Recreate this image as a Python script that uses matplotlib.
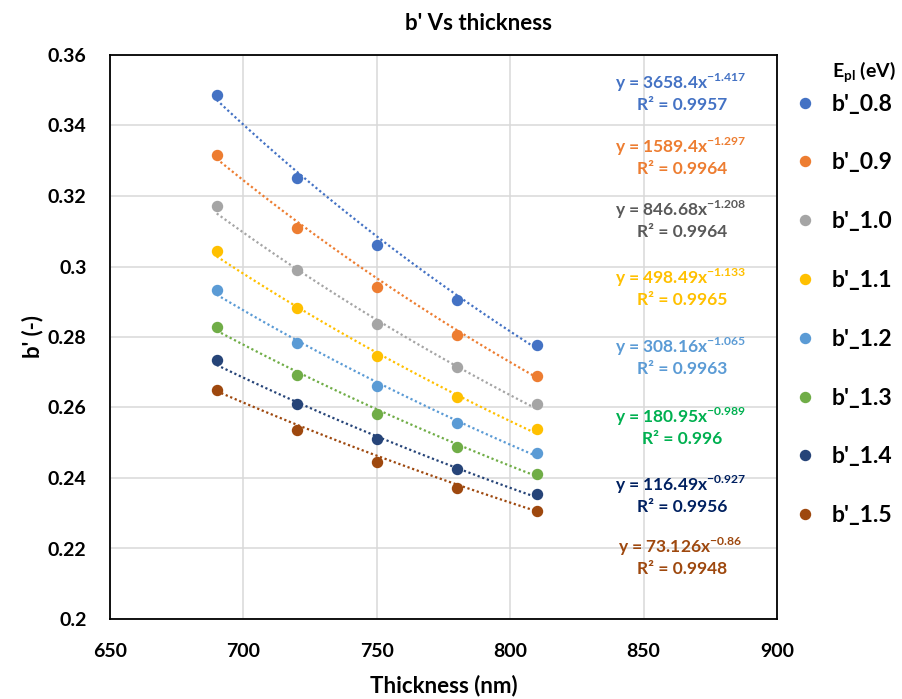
import numpy as np
import matplotlib
matplotlib.use("Agg")
import matplotlib.pyplot as plt

plt.rcParams['font.family'] = ['Lato', 'DejaVu Sans']
plt.rcParams['font.weight'] = 'bold'
plt.rcParams['mathtext.fontset'] = 'custom'
plt.rcParams['mathtext.rm'] = 'Lato:bold'
plt.rcParams['mathtext.bf'] = 'Lato:bold'

thickness = [690, 720, 750, 780, 810]
series_names = ["b'_0.8", "b'_0.9", "b'_1.0", "b'_1.1", "b'_1.2", "b'_1.3", "b'_1.4", "b'_1.5"]

b_08 = [0.3487, 0.3252, 0.3060, 0.2905, 0.2778]
b_09 = [0.3315, 0.3108, 0.2941, 0.2805, 0.2688]
b_10 = [0.3172, 0.2990, 0.2838, 0.2716, 0.2609]
b_11 = [0.3045, 0.2881, 0.2745, 0.2631, 0.2539]
b_12 = [0.2934, 0.2783, 0.2661, 0.2556, 0.2471]
b_13 = [0.2827, 0.2692, 0.2581, 0.2489, 0.2412]
b_14 = [0.2735, 0.2611, 0.2511, 0.2425, 0.2355]
b_15 = [0.2651, 0.2537, 0.2446, 0.2371, 0.2307]
values = [b_08, b_09, b_10, b_11, b_12, b_13, b_14, b_15]

# power-law trendlines y = a * x^b, as printed on the chart
fit_a = [3658.4, 1589.4, 846.68, 498.49, 308.16, 180.95, 116.49, 73.126]
fit_a_txt = ["3658.4", "1589.4", "846.68", "498.49", "308.16", "180.95", "116.49", "73.126"]
fit_b = [-1.417, -1.297, -1.208, -1.133, -1.065, -0.989, -0.927, -0.86]
r2_txt = ["0.9957", "0.9964", "0.9964", "0.9965", "0.9963", "0.996", "0.9956", "0.9948"]

colors = ['#4472C4', '#ED7D31', '#A5A5A5', '#FFC000', '#5B9BD5', '#70AD47', '#264478', '#9E480E']
text_colors = ['#4472C4', '#ED7D31', '#595959', '#FFC000', '#5B9BD5', '#00B050', '#002060', '#9E480E']

fig = plt.figure(figsize=(9.03, 6.99), dpi=100)
ax = fig.add_axes([110 / 903, 1 - 619 / 699, 667 / 903, 564 / 699])

xs = np.linspace(thickness[0], thickness[-1], 100)
handles = []
for i, name in enumerate(series_names):
    ax.plot(xs, fit_a[i] * xs ** fit_b[i], linestyle=(0, (1, 1.2)), color=colors[i], lw=1.6, zorder=2)
    h, = ax.plot(thickness, values[i], 'o', color=colors[i], markersize=7.2, label=name, zorder=3)
    handles.append(h)

# equation labels
eq_y = [83, 147, 210, 278, 347, 417, 485, 547]
for i in range(len(series_names)):
    yf = (619 - eq_y[i]) / 564
    expo = f"{fit_b[i]:g}".replace('-', '{-}')
    ax.text(0.855, yf, "y = " + fit_a_txt[i] + r"x$^{\mathbf{" + expo + "}}$",
            transform=ax.transAxes, ha='center', va='center', fontsize=12.5,
            color=text_colors[i], fontweight='bold')
    ax.text(0.858, yf - 22.5 / 564, "R² = " + r2_txt[i], transform=ax.transAxes,
            ha='center', va='center', fontsize=12.5, color=text_colors[i], fontweight='bold')

ax.set_xlim(650, 900)
ax.set_ylim(0.2, 0.36)
ax.set_xticks([650, 700, 750, 800, 850, 900])
ax.set_yticks([0.2, 0.22, 0.24, 0.26, 0.28, 0.3, 0.32, 0.34, 0.36])
ax.set_yticklabels(['0.2', '0.22', '0.24', '0.26', '0.28', '0.3', '0.32', '0.34', '0.36'])
ax.tick_params(axis='both', length=0, labelsize=14)
ax.tick_params(axis='y', pad=17)
ax.tick_params(axis='x', pad=17)
ax.grid(True, color='#D9D9D9', lw=1.1, zorder=0)
ax.set_axisbelow(True)
for s in ax.spines.values():
    s.set_color('black')
    s.set_linewidth(1.3)

ax.set_xlabel('Thickness (nm)', fontsize=16, fontweight='bold', labelpad=11)
ax.set_ylabel("b' (-)", fontsize=16, fontweight='bold', labelpad=3)
fig.text(479 / 903, 1 - 24 / 699, "b' Vs thickness", ha='center', va='center', fontsize=16, fontweight='bold')

fig.text(832 / 903, 1 - 72 / 699, r"E$_{\mathbf{pl}}$ (eV)", ha='left', va='center', fontsize=14, fontweight='bold')
fig.legend(handles=handles, loc='upper left', bbox_to_anchor=(773 / 903, 1 - 73 / 699), frameon=False,
           fontsize=16.5, labelspacing=1.65, handlelength=1.0, handletextpad=0.66, markerscale=1.0)

fig.savefig('out.png', dpi=100)
